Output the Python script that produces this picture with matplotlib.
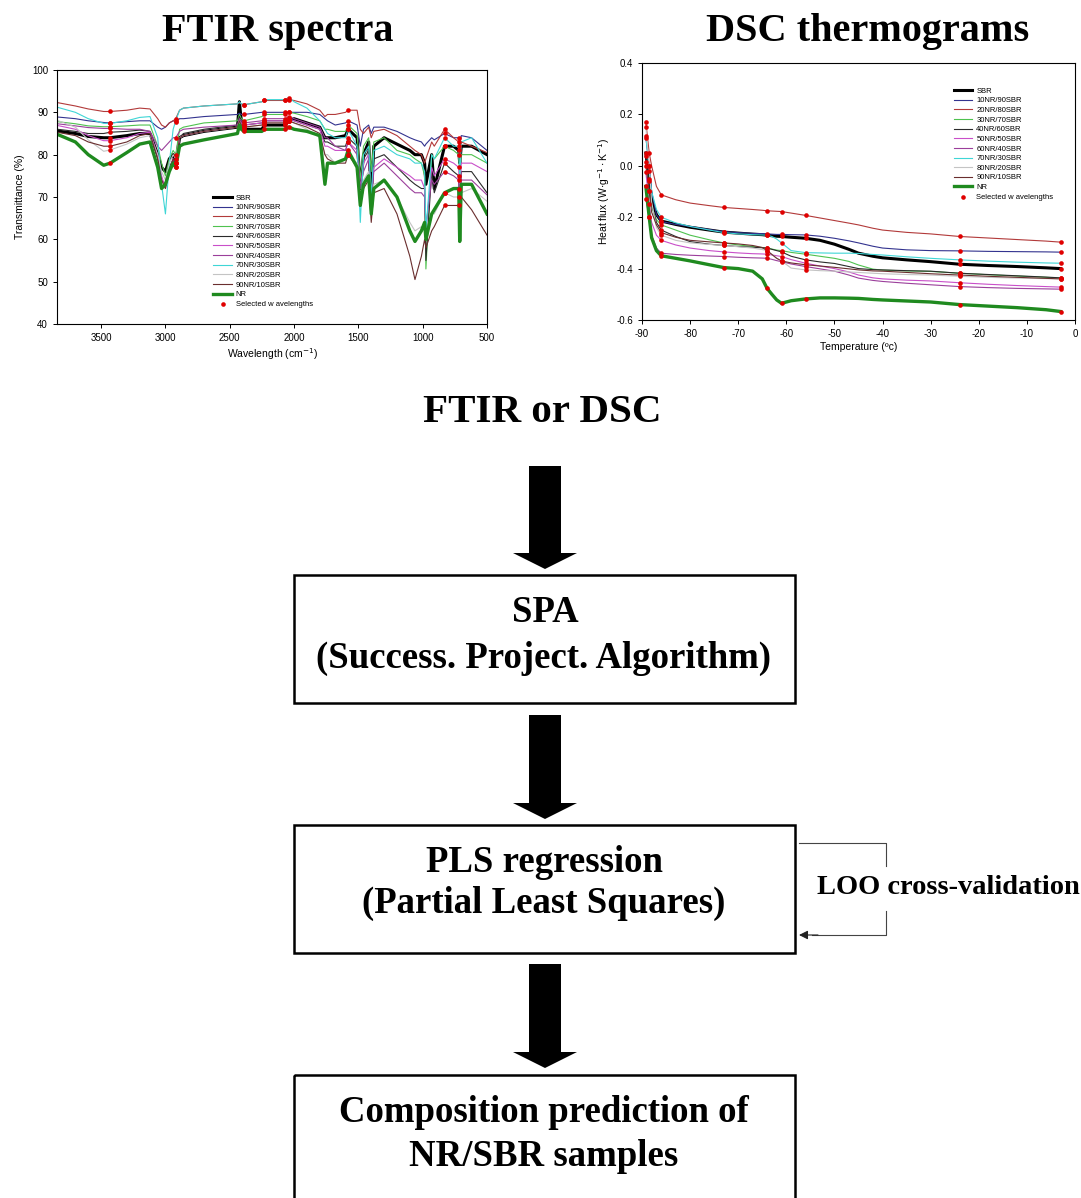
import numpy as np
import matplotlib.pyplot as plt
import matplotlib.patches as mpatches

plt.rcParams["font.family"] = ["Liberation Sans", "DejaVu Sans"]
plt.rcParams["axes.unicode_minus"] = False

W, H = 1081, 1198

# ---- series styles (shared by both plots) ----
labels = ["SBR", "10NR/90SBR", "20NR/80SBR", "30NR/70SBR", "40NR/60SBR",
          "50NR/50SBR", "60NR/40SBR", "70NR/30SBR", "80NR/20SBR",
          "90NR/10SBR", "NR"]
colors = ["#000000", "#33338f", "#b23a3a", "#4fc24f", "#2b2b2b", "#c94fc9",
          "#9b3f9b", "#3fd6d6", "#c4c4c4", "#6a2e2e", "#1f8a1f"]
widths = [2.2, 0.8, 0.8, 0.8, 0.8, 0.8, 0.8, 0.8, 0.8, 0.8, 2.4]

# ---- FTIR spectra ----
wavenumber = [3840, 3700, 3600, 3480, 3430, 3300, 3200, 3120, 3060, 3030,
              3000, 2970, 2940, 2920, 2890, 2860, 2700, 2440, 2425, 2410,
              2390, 2250, 2230, 2070, 2040, 2000, 1900, 1800, 1760, 1740,
              1680, 1600, 1580, 1510, 1485, 1460, 1420, 1400, 1380, 1300,
              1200, 1100, 1060, 1010, 985, 975, 930, 910, 830, 760,
              720, 712, 700, 620, 500]

ftir_sbr = [85.6, 85.0, 84.3, 84.0, 84.0, 84.5, 85.0, 85.0, 80.0, 77.0,
            76.0, 79.0, 80.0, 78.0, 84.0, 84.5, 85.5, 86.5, 92.5, 88.0,
            86.0, 86.0, 87.0, 87.0, 88.0, 88.5, 87.5, 86.5, 84.0, 84.0,
            84.0, 84.5, 86.0, 84.0, 72.0, 80.0, 83.0, 70.0, 82.0, 84.0,
            82.5, 81.0, 80.0, 80.0, 78.0, 73.0, 80.0, 72.0, 82.0, 82.0,
            81.0, 78.0, 82.0, 82.0, 80.0]
ftir_10nr = [88.9, 88.5, 88.0, 87.6, 87.5, 87.8, 88.0, 88.0, 86.5, 86.0,
             86.5, 87.5, 88.0, 87.8, 88.5, 88.5, 89.0, 89.5, 89.8, 89.5,
             89.5, 90.0, 90.0, 90.0, 90.0, 90.0, 90.0, 89.5, 88.5, 88.0,
             87.0, 87.5, 88.0, 87.0, 82.0, 86.0, 87.0, 85.0, 86.5, 86.5,
             85.5, 84.0, 83.5, 83.0, 82.0, 82.5, 84.0, 83.5, 85.0, 84.0,
             84.0, 82.0, 84.5, 84.0, 81.0]
ftir_20nr = [92.3, 91.5, 90.8, 90.2, 90.2, 90.5, 91.0, 90.8, 88.5, 87.0,
             86.5, 87.5, 88.0, 88.5, 90.5, 91.0, 91.5, 92.0, 92.2, 92.0,
             91.8, 92.5, 92.8, 92.8, 93.0, 92.8, 92.0, 90.5, 89.0, 89.5,
             89.5, 90.0, 90.5, 90.5, 86.0, 85.0, 86.5, 84.0, 85.5, 86.0,
             84.5, 82.0, 81.0, 80.0, 78.0, 79.0, 83.0, 82.0, 86.0, 84.0,
             83.0, 80.0, 83.0, 82.0, 80.5]
ftir_30nr = [87.8, 87.3, 86.8, 86.6, 86.6, 86.8, 87.0, 87.0, 82.0, 78.0,
             75.0, 79.0, 81.0, 80.0, 86.0, 86.5, 87.5, 88.0, 89.5, 88.5,
             88.0, 89.0, 89.5, 89.5, 90.0, 89.8, 89.0, 88.0, 86.0, 86.0,
             85.5, 85.5, 87.0, 85.0, 74.0, 82.0, 84.0, 76.0, 83.0, 84.0,
             81.0, 80.0, 79.0, 78.0, 75.0, 53.0, 80.0, 79.0, 82.0, 81.0,
             80.0, 76.0, 80.0, 80.0, 78.0]
ftir_40nr = [86.0, 85.5, 85.0, 85.0, 85.3, 85.5, 85.8, 85.5, 79.0, 74.0,
             73.0, 77.0, 79.0, 77.0, 84.0, 85.0, 86.0, 87.0, 89.0, 87.5,
             87.0, 87.5, 88.0, 88.0, 88.5, 88.0, 87.0, 86.0, 83.0, 83.0,
             82.0, 82.0, 84.0, 82.0, 72.0, 79.0, 81.0, 70.0, 79.0, 80.0,
             77.0, 74.0, 73.0, 72.0, 72.0, 55.0, 76.0, 71.0, 78.0, 76.0,
             75.0, 60.0, 76.0, 76.0, 71.0]
ftir_50nr = [86.9, 86.0, 84.5, 83.3, 83.3, 84.0, 85.0, 85.3, 80.0, 75.0,
             72.0, 76.0, 79.0, 78.0, 84.0, 84.5, 85.5, 86.5, 88.0, 87.5,
             87.0, 87.5, 88.0, 88.0, 88.5, 88.0, 87.0, 86.0, 82.0, 82.0,
             81.0, 81.0, 83.0, 81.0, 72.0, 78.0, 80.0, 69.0, 77.0, 79.0,
             77.0, 75.0, 74.0, 74.0, 72.0, 62.0, 77.0, 75.0, 79.0, 78.0,
             77.0, 67.0, 78.0, 78.0, 76.0]
ftir_60nr = [87.3, 86.8, 86.4, 86.2, 86.2, 86.0, 86.0, 85.5, 82.0, 81.0,
             82.0, 83.0, 84.0, 84.0, 85.5, 86.0, 86.5, 87.0, 88.5, 88.0,
             87.5, 88.0, 88.5, 88.5, 89.0, 88.5, 87.5, 86.5, 84.0, 84.0,
             82.0, 81.0, 83.0, 80.0, 72.0, 76.0, 79.0, 69.0, 76.0, 78.0,
             75.0, 72.0, 71.0, 71.0, 70.0, 63.0, 74.0, 73.0, 76.0, 75.0,
             74.0, 68.0, 74.0, 74.0, 70.5]
ftir_70nr = [91.2, 90.0, 88.5, 87.4, 87.4, 88.0, 88.8, 89.0, 84.0, 73.0,
             66.0, 78.0, 86.0, 88.0, 90.5, 91.0, 91.5, 92.0, 92.5, 92.0,
             91.8, 92.5, 93.0, 93.0, 93.5, 92.5, 91.0, 88.0, 86.0, 85.0,
             84.0, 84.0, 86.0, 82.0, 64.0, 80.0, 82.0, 70.0, 81.0, 82.0,
             80.0, 79.0, 78.0, 78.0, 76.0, 62.0, 80.0, 79.0, 84.0, 82.0,
             82.0, 74.0, 83.0, 84.0, 78.0]
ftir_80nr = [88.1, 86.5, 83.5, 80.8, 81.1, 82.5, 84.0, 84.5, 80.0, 76.0,
             74.0, 78.0, 80.0, 79.0, 84.0, 84.5, 85.5, 86.5, 88.0, 87.0,
             86.5, 87.0, 87.5, 87.5, 88.0, 87.5, 86.0, 84.0, 80.0, 80.0,
             78.0, 79.0, 80.0, 78.0, 70.0, 74.0, 76.0, 67.0, 73.0, 74.0,
             70.0, 64.0, 62.0, 63.0, 63.0, 60.0, 66.0, 66.0, 71.0, 70.0,
             70.0, 66.0, 71.0, 72.0, 69.0]
ftir_90nr = [85.3, 84.5, 83.0, 82.0, 82.0, 83.0, 84.5, 85.0, 79.0, 74.0,
             72.0, 76.0, 79.0, 78.0, 84.0, 84.5, 85.5, 86.5, 88.0, 87.0,
             86.5, 87.0, 87.5, 87.5, 88.0, 87.5, 86.5, 85.0, 80.0, 79.0,
             78.0, 78.0, 80.0, 77.0, 68.0, 72.0, 74.0, 64.0, 71.0, 72.0,
             66.0, 56.0, 50.5, 56.0, 60.0, 58.0, 62.0, 63.0, 68.0, 68.0,
             68.0, 66.0, 70.0, 67.0, 61.0]
ftir_nr = [84.8, 83.0, 80.0, 77.5, 78.0, 80.5, 82.5, 83.0, 77.0, 72.0,
           73.0, 76.0, 78.0, 77.0, 82.0, 82.5, 83.5, 85.0, 87.0, 86.0,
           85.5, 85.5, 86.0, 86.0, 86.5, 86.0, 85.5, 84.5, 73.0, 78.0,
           78.0, 79.0, 81.0, 77.0, 68.0, 73.0, 75.0, 66.0, 72.0, 74.0,
           70.0, 62.0, 59.5, 62.0, 64.0, 60.0, 66.0, 67.0, 71.0, 72.0,
           72.0, 59.5, 73.0, 73.0, 66.0]
ftir_selected = [3430, 2920, 2390, 2230, 2070, 2040, 1580, 830, 720]

# ---- DSC thermograms ----
temperature = [-89.2, -88.5, -88.0, -87.0, -86.0, -83, -80, -76, -73, -70,
               -67, -65, -64, -63, -62, -61, -59, -56, -53, -50,
               -47, -45, -42, -40, -35, -30, -24, -18, -12, -6,
               -3]

dsc_sbr = [0.05, -0.05, -0.13, -0.19, -0.215, -0.228, -0.239, -0.250, -0.258, -0.262,
           -0.266, -0.268, -0.270, -0.272, -0.274, -0.275, -0.278, -0.282, -0.290, -0.305,
           -0.325, -0.340, -0.352, -0.358, -0.366, -0.373, -0.383, -0.388, -0.392, -0.397,
           -0.400]
dsc_10nr = [0.11, 0.0, -0.10, -0.19, -0.217, -0.228, -0.236, -0.248, -0.256, -0.260,
            -0.263, -0.264, -0.265, -0.266, -0.267, -0.267, -0.268, -0.269, -0.274, -0.282,
            -0.292, -0.300, -0.313, -0.320, -0.327, -0.330, -0.331, -0.333, -0.334, -0.335,
            -0.336]
dsc_20nr = [0.17, 0.05, 0.0, -0.08, -0.113, -0.132, -0.145, -0.155, -0.162, -0.166,
            -0.170, -0.173, -0.175, -0.176, -0.177, -0.178, -0.184, -0.193, -0.203, -0.213,
            -0.223, -0.230, -0.243, -0.250, -0.259, -0.265, -0.275, -0.281, -0.287, -0.293,
            -0.297]
dsc_30nr = [0.015, -0.10, -0.16, -0.21, -0.23, -0.25, -0.27, -0.288, -0.300, -0.308,
            -0.314, -0.318, -0.320, -0.324, -0.328, -0.330, -0.337, -0.344, -0.352, -0.360,
            -0.372, -0.386, -0.402, -0.406, -0.409, -0.411, -0.418, -0.424, -0.429, -0.434,
            -0.437]
dsc_40nr = [0.04, -0.06, -0.15, -0.22, -0.25, -0.275, -0.295, -0.305, -0.310, -0.314,
            -0.317, -0.319, -0.320, -0.325, -0.330, -0.335, -0.352, -0.366, -0.374, -0.380,
            -0.392, -0.400, -0.404, -0.405, -0.408, -0.410, -0.418, -0.423, -0.428, -0.433,
            -0.436]
dsc_50nr = [-0.025, -0.15, -0.22, -0.27, -0.29, -0.308, -0.320, -0.330, -0.335, -0.339,
            -0.342, -0.343, -0.344, -0.347, -0.350, -0.353, -0.365, -0.379, -0.390, -0.400,
            -0.413, -0.425, -0.436, -0.440, -0.445, -0.448, -0.455, -0.461, -0.466, -0.470,
            -0.472]
dsc_60nr = [-0.13, -0.20, -0.27, -0.32, -0.34, -0.345, -0.348, -0.351, -0.353, -0.356,
            -0.358, -0.359, -0.360, -0.364, -0.369, -0.373, -0.382, -0.392, -0.401, -0.410,
            -0.425, -0.437, -0.446, -0.450, -0.457, -0.463, -0.470, -0.474, -0.477, -0.479,
            -0.480]
dsc_70nr = [0.115, -0.02, -0.10, -0.17, -0.20, -0.222, -0.236, -0.250, -0.260, -0.265,
            -0.268, -0.269, -0.270, -0.275, -0.285, -0.300, -0.330, -0.338, -0.339, -0.340,
            -0.340, -0.341, -0.345, -0.347, -0.354, -0.360, -0.366, -0.371, -0.375, -0.378,
            -0.379]
dsc_80nr = [0.15, 0.0, -0.14, -0.24, -0.27, -0.29, -0.300, -0.306, -0.310, -0.315,
            -0.320, -0.326, -0.330, -0.345, -0.360, -0.370, -0.398, -0.405, -0.408, -0.410,
            -0.413, -0.415, -0.418, -0.420, -0.423, -0.425, -0.430, -0.434, -0.437, -0.439,
            -0.440]
dsc_90nr = [0.0, -0.10, -0.18, -0.23, -0.26, -0.278, -0.290, -0.296, -0.300, -0.304,
            -0.310, -0.318, -0.330, -0.345, -0.360, -0.370, -0.378, -0.385, -0.390, -0.395,
            -0.401, -0.405, -0.409, -0.410, -0.415, -0.420, -0.425, -0.430, -0.434, -0.438,
            -0.440]
dsc_nr = [-0.08, -0.20, -0.28, -0.33, -0.35, -0.36, -0.37, -0.385, -0.396, -0.400,
          -0.410, -0.440, -0.477, -0.500, -0.522, -0.535, -0.525, -0.518, -0.514, -0.514,
          -0.515, -0.516, -0.520, -0.522, -0.526, -0.530, -0.540, -0.546, -0.552, -0.560,
          -0.567]
dsc_selected = [-89.2, -88.5, -86.0, -73, -64, -61, -56, -24, -3]

ftir_series = [ftir_sbr, ftir_10nr, ftir_20nr, ftir_30nr, ftir_40nr, ftir_50nr,
               ftir_60nr, ftir_70nr, ftir_80nr, ftir_90nr, ftir_nr]
dsc_series = [dsc_sbr, dsc_10nr, dsc_20nr, dsc_30nr, dsc_40nr, dsc_50nr,
              dsc_60nr, dsc_70nr, dsc_80nr, dsc_90nr, dsc_nr]


def px_axes(fig, left, top, right, bottom):
    return fig.add_axes([left / W, 1 - bottom / H, (right - left) / W, (bottom - top) / H])


def draw_spectra(ax, x, series, selected):
    idx = [x.index(s) for s in selected]
    for y, lab, c, lw in zip(series, labels, colors, widths):
        ax.plot(x, y, color=c, lw=lw, label=lab)
    sx = [x[i] for y in series for i in idx]
    sy = [y[i] for y in series for i in idx]
    ax.scatter(sx, sy, s=11, color="#e00000", zorder=5, linewidths=0,
               label="Selected w avelengths")
    for sp in ax.spines.values():
        sp.set_linewidth(0.8)
    ax.tick_params(labelsize=7, length=3, width=0.7, direction="out")


fig = plt.figure(figsize=(W / 100, H / 100), dpi=100)

# ---- flowchart overlay in pixel coordinates ----
ax0 = fig.add_axes([0, 0, 1, 1])
ax0.set_xlim(0, W)
ax0.set_ylim(H, 0)
ax0.axis("off")

serif = dict(family=["Liberation Serif", "DejaVu Serif"], fontweight="bold",
             ha="center", va="center", color="black")
ax0.text(278, 31, "FTIR spectra", fontsize=29, **serif)
ax0.text(868, 31, "DSC thermograms", fontsize=29, **serif)
ax0.text(542, 413, "FTIR or DSC", fontsize=29.5, **serif)

boxes = [(575, 703), (825, 953), (1075, 1300)]
for top, bottom in boxes:
    ax0.add_patch(mpatches.Rectangle((294, top), 501, bottom - top, fill=False,
                                     lw=1.8, ec="black"))

for y0, y1 in [(466, 569), (715, 819), (964, 1068)]:
    ax0.add_patch(mpatches.FancyArrow(545, y0, 0, y1 - y0, width=32, head_width=64,
                                      head_length=16, length_includes_head=True,
                                      color="black", lw=0))

box_fs = 26.5
ax0.text(545, 613, "SPA", fontsize=box_fs, **serif)
ax0.text(544, 658, "(Success. Project. Algorithm)", fontsize=box_fs, **serif)
ax0.text(544, 862, "PLS regression", fontsize=box_fs, **serif)
ax0.text(544, 903, "(Partial Least Squares)", fontsize=box_fs, **serif)
ax0.text(544, 1112, "Composition prediction of", fontsize=box_fs, **serif)
ax0.text(544, 1157, "NR/SBR samples", fontsize=box_fs, **serif)

# LOO bracket
ax0.plot([799, 886, 886], [843, 843, 866], color="#444444", lw=0.8)
ax0.plot([886, 886, 812], [911, 935, 935], color="#444444", lw=0.8)
ax0.annotate("", xy=(799, 935), xytext=(818, 935),
             arrowprops=dict(arrowstyle="-|>", color="#222222", lw=0.8,
                             mutation_scale=13, shrinkA=0, shrinkB=0))
ax0.text(948, 888, "LOO cross-validation", fontsize=20.5, **serif)

# ---- FTIR plot ----
ax1 = px_axes(fig, 57, 70, 487, 324)
draw_spectra(ax1, wavenumber, ftir_series, ftir_selected)
ax1.set_xlim(3843, 500)
ax1.set_ylim(40, 100)
ax1.set_xticks([3500, 3000, 2500, 2000, 1500, 1000, 500])
ax1.set_yticks([40, 50, 60, 70, 80, 90, 100])
ax1.set_xlabel("Wavelength (cm$^{-1}$)", fontsize=7.5, labelpad=2)
ax1.set_ylabel("Transmittance (%)", fontsize=7.5, labelpad=5)
ax1.legend(loc="upper left", bbox_to_anchor=(0.355, 0.525), frameon=False,
           fontsize=5.5, handlelength=2.4, labelspacing=0.3, borderpad=0,
           handletextpad=0.5)

# ---- DSC plot ----
ax2 = px_axes(fig, 642, 63, 1075, 320)
draw_spectra(ax2, temperature, dsc_series, dsc_selected)
ax2.set_xlim(-90, 0)
ax2.set_ylim(-0.6, 0.4)
ax2.set_xticks(range(-90, 1, 10))
ax2.set_yticks([-0.6, -0.4, -0.2, 0.0, 0.2, 0.4])
ax2.yaxis.set_major_formatter(plt.FormatStrFormatter("%.1f"))
ax2.set_xlabel("Temperature (ºc)", fontsize=7.5, labelpad=2)
ax2.set_ylabel(r"Heat flux (W$\cdot$g$^{-1}\cdot$K$^{-1}$)", fontsize=7.5, labelpad=3)
ax2.legend(loc="upper left", bbox_to_anchor=(0.712, 0.92), frameon=False,
           fontsize=5.5, handlelength=2.4, labelspacing=0.3, borderpad=0,
           handletextpad=0.5)

fig.savefig("out.png", dpi=100)
